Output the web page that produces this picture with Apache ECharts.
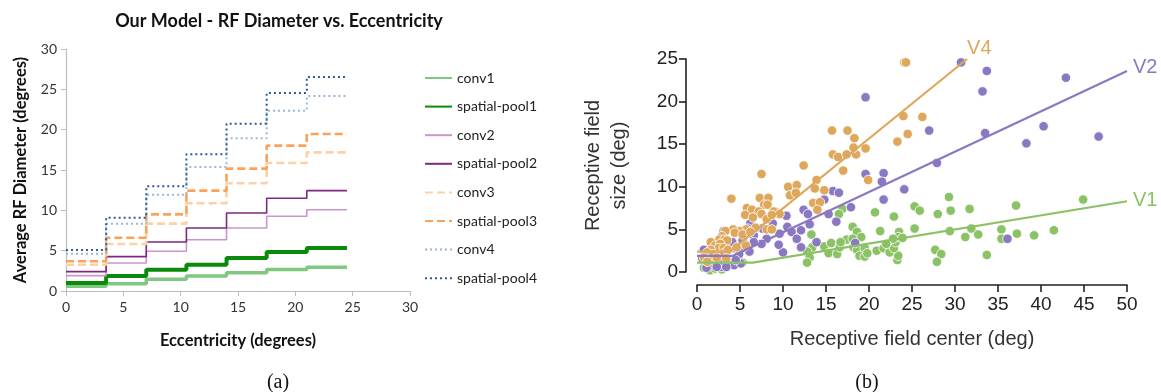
<!DOCTYPE html>
<html><head><meta charset="utf-8">
<script src="https://cdn.jsdelivr.net/npm/echarts@6/dist/echarts.min.js"></script>
<style>html,body{margin:0;padding:0;background:#fff}#c{width:1161px;height:392px}</style>
</head><body><div id="c"></div><script>
// ---------- (a) data ----------
const eccBreaks = [0, 3.5, 7, 10.5, 14, 17.5, 21, 24.5];
const layerNames = ['conv1','spatial-pool1','conv2','spatial-pool2','conv3','spatial-pool3','conv4','spatial-pool4'];
const conv1 = [0.6, 0.9, 1.45, 1.85, 2.25, 2.65, 2.95];
const spatialPool1 = [1.0, 1.86, 2.64, 3.26, 4.09, 4.83, 5.33];
const conv2 = [1.9, 3.47, 4.92, 6.36, 7.81, 9.26, 10.08];
const spatialPool2 = [2.4, 4.26, 6.07, 7.81, 9.67, 11.49, 12.44];
const conv3 = [3.26, 5.83, 8.35, 10.87, 13.35, 15.87, 17.19];
const spatialPool3 = [3.68, 6.61, 9.5, 12.44, 15.17, 18.02, 19.46];
const conv4 = [4.63, 8.35, 11.94, 15.37, 18.93, 22.36, 24.17];
const spatialPool4 = [5.08, 9.09, 12.98, 16.94, 20.74, 24.55, 26.53];
const layerValues = [conv1, spatialPool1, conv2, spatialPool2, conv3, spatialPool3, conv4, spatialPool4];

// ---------- (b) data ----------
const v1Points = [[44.9,8.5],[37.1,7.8],[29.3,8.8],[29.5,7.2],[31.7,7.4],[25.3,7.7],[25.9,7.2],[28.0,6.8],[20.7,7.0],[16.9,7.4],[16.5,6.8],[22.9,6.5],[18.1,5.3],[18.6,4.7],[19.1,4.1],[21.3,4.8],[23.5,4.7],[25.3,5.1],[29.4,4.8],[31.9,5.1],[32.7,4.4],[31.2,4.1],[35.4,5.0],[35.4,3.9],[37.2,4.5],[39.2,4.3],[41.5,4.9],[33.7,2.0],[27.7,2.6],[28.4,2.1],[27.9,1.2],[23.3,1.4],[23.4,1.9],[13.3,4.4],[13.4,2.9],[12.8,2.4],[13.1,1.7],[12.8,1.1],[14.8,3.0],[15.6,3.4],[15.3,2.2],[16.3,2.1],[16.6,2.9],[17.4,3.8],[18.1,3.9],[18.2,2.9],[18.6,2.6],[18.9,1.9],[19.5,1.8],[19.5,2.8],[19.8,2.2],[20.9,2.5],[21.7,2.8],[22.4,2.3],[22.9,2.8],[23.1,3.5],[23.4,4.1],[22.8,3.9],[23.9,4.0],[22.0,3.3],[16.7,3.5],[0.8,0.5],[1.5,0.2],[2.1,0.4],[2.9,0.3],[3.6,0.7],[4.2,1.0],[5.3,1.1],[1.2,0.8],[2.4,0.9]];
const v2Points = [[30.7,24.6],[33.7,23.6],[33.2,21.2],[42.9,22.8],[19.6,20.5],[27.0,16.6],[33.5,16.3],[40.3,17.1],[38.3,15.1],[46.7,15.9],[27.9,12.8],[19.6,11.5],[21.7,11.6],[21.5,10.6],[24.1,9.7],[21.7,8.5],[15.8,9.5],[16.5,9.3],[14.8,8.5],[17.9,7.6],[15.3,6.8],[12.4,7.3],[12.9,6.8],[16.2,5.9],[13.1,5.6],[13.9,3.5],[18.4,3.4],[12.1,2.9],[10.0,2.3],[36.1,3.9],[10.4,6.6],[9.2,7.0],[8.8,5.7],[10.5,5.3],[11.0,4.7],[11.6,3.9],[12.1,4.9],[9.6,4.5],[9.5,3.2],[8.1,3.9],[7.5,3.3],[7.6,5.1],[6.6,4.3],[6.6,3.5],[6.2,5.7],[5.9,5.1],[5.3,3.7],[6.1,2.4],[5.4,2.9],[4.9,2.1],[4.2,2.8],[4.1,3.5],[3.1,4.8],[2.7,3.5],[2.2,3.2],[1.5,2.4],[0.8,2.6],[0.6,1.6],[1.2,1.2],[1.8,0.8],[2.6,1.2],[2.9,0.6],[3.6,1.2],[4.3,0.8],[5.1,1.0],[1.1,0.5],[2.3,0.6],[3.4,0.6],[4.5,1.4]];
const v4Points = [[24.1,24.6],[24.3,24.6],[15.7,16.6],[17.5,16.6],[18.3,15.7],[24.0,18.3],[26.2,18.2],[24.5,16.2],[23.3,15.3],[15.8,13.8],[16.4,13.5],[17.4,13.8],[18.5,13.8],[18.2,14.6],[19.6,14.5],[17.0,11.9],[19.9,10.8],[12.4,12.5],[7.5,11.5],[10.6,10.0],[11.6,10.2],[10.8,9.0],[11.5,9.3],[13.9,10.8],[13.7,9.8],[14.8,9.6],[13.5,8.1],[14.3,8.2],[14.0,7.3],[4.0,8.6],[7.3,8.7],[8.3,8.7],[7.8,7.9],[8.2,7.9],[5.8,7.5],[6.4,7.3],[7.2,7.1],[7.5,6.8],[8.9,7.1],[9.6,6.8],[5.6,6.7],[6.5,6.4],[8.1,6.2],[8.7,6.7],[8.1,5.0],[8.7,5.0],[6.8,5.2],[5.7,5.0],[4.9,4.8],[4.2,5.0],[4.4,4.6],[5.3,4.4],[6.2,4.7],[3.3,4.8],[2.9,4.2],[2.6,3.8],[3.2,3.8],[3.5,3.7],[1.6,3.5],[2.1,3.1],[2.7,3.3],[2.5,2.8],[3.1,2.8],[1.6,2.6],[1.2,2.3],[1.9,2.1],[3.1,2.2],[3.6,2.6],[4.6,2.9],[5.7,3.1],[0.8,1.7],[1.4,1.4],[2.3,1.7],[3.4,1.6],[1.2,1.2]];
const v1Fit = [[0,1.1],[6.5,1.1],[50,8.3]];
const v2Fit = [[0,1.9],[4.2,1.9],[50,23.6]];
const v4Fit = [[0,2.4],[3.8,2.4],[31.4,25.0]];

// ---------- styles ----------
const layerStyles = [
  {color:'#80c880', width:3.5, type:'solid'},
  {color:'#0a8a0a', width:4, type:'solid'},
  {color:'#c996c9', width:1.6, type:'solid'},
  {color:'#7e2882', width:1.6, type:'solid'},
  {color:'#fdd1a4', width:2.6, type:[8,4]},
  {color:'#fba258', width:2.6, type:[8,4]},
  {color:'#9db6d6', width:2, type:[2,3]},
  {color:'#2b5c96', width:2, type:[2,3]}
];
const cV1 = '#8cc266', cV2 = '#8a78c2', cV4 = '#dea85c';

const leftFont = 'Lato, "Noto Sans", sans-serif';
const rightFont = '"Liberation Sans", Arial, sans-serif';

const stepSeries = layerNames.map((name, k) => ({
  name, type:'line', xAxisIndex:0, yAxisIndex:0, step:'end', symbol:'none',
  data: eccBreaks.map((x, i) => [x, layerValues[k][Math.min(i, layerValues[k].length - 1)]]),
  lineStyle: {color: layerStyles[k].color, width: layerStyles[k].width, type: layerStyles[k].type},
  itemStyle: {color: layerStyles[k].color},
  z: 2 + k
}));

const scatterSeries = [[v1Points, cV1],[v2Points, cV2],[v4Points, cV4]].map(([pts, c], k) => ({
  type:'scatter', xAxisIndex:1, yAxisIndex:1, data: pts, symbolSize: 9.5,
  itemStyle: {color: c, borderColor:'#fff', borderWidth: 0.8, opacity: 1},
  z: 10 + k
}));

const fitSeries = [[v1Fit, cV1, 'V1', [2,-1]],[v2Fit, cV2, 'V2', [2,-3]],[v4Fit, cV4, 'V4', [-4,-11]]].map(([pts, c, lab, off]) => ({
  type:'line', xAxisIndex:1, yAxisIndex:1, data: pts, symbol:'none',
  lineStyle: {color: c, width: 2.2}, z: 20,
  endLabel: {show:true, formatter: lab, color: c, fontSize: 20, fontFamily: rightFont, distance: 4, offset: off}
}));

const chart = echarts.init(document.getElementById('c'), null, {renderer:'canvas'});
chart.setOption({
  animation: false,
  backgroundColor: '#fff',
  title: [
    {text:'Our Model - RF Diameter vs. Eccentricity', left: 274, top: 7, textAlign:'center',
     textStyle:{fontFamily: leftFont, fontWeight:'bold', fontSize: 18, color:'#111'}},
    {text:'(a)', left: 273, top: 368, textAlign:'center',
     textStyle:{fontFamily:'"Liberation Serif", "DejaVu Serif", serif', fontWeight:'normal', fontSize: 20, color:'#111'}},
    {text:'(b)', left: 862, top: 368, textAlign:'center',
     textStyle:{fontFamily:'"Liberation Serif", "DejaVu Serif", serif', fontWeight:'normal', fontSize: 20, color:'#111'}}
  ],
  legend: {
    data: layerNames, orient:'vertical', left: 419, top: 66, itemWidth: 27, itemHeight: 10, itemGap: 14.6,
    itemStyle: {opacity: 0},
    textStyle: {fontFamily: leftFont, fontSize: 14, color:'#222'}, selectedMode: false
  },
  grid: [
    {left: 66, top: 49, width: 344, height: 242},
    {left: 697, top: 59, width: 430, height: 213}
  ],
  xAxis: [
    {type:'value', gridIndex:0, min:0, max:30, interval:5,
     name:'Eccentricity (degrees)', nameLocation:'middle', nameGap: 41,
     nameTextStyle:{fontFamily:leftFont, fontWeight:'bold', fontSize:16.5, color:'#111'},
     axisLine:{show:true, lineStyle:{color:'#bdbdbd', width:1.2}},
     axisTick:{show:true, length:5, lineStyle:{color:'#bdbdbd'}},
     axisLabel:{fontFamily:leftFont, fontSize:14, color:'#333', margin:9},
     splitLine:{show:false}},
    {type:'value', gridIndex:1, min:0, max:50, interval:5, offset: 13,
     name:'Receptive field center (deg)', nameLocation:'middle', nameGap: 44,
     nameTextStyle:{fontFamily:rightFont, fontSize:20, color:'#333'},
     axisLine:{show:true, onZero:false, lineStyle:{color:'#222', width:1.6}},
     axisTick:{show:true, length:7, lineStyle:{color:'#222', width:1.6}},
     axisLabel:{fontFamily:rightFont, fontSize:19, color:'#222', margin:10},
     splitLine:{show:false}}
  ],
  yAxis: [
    {type:'value', gridIndex:0, min:0, max:30, interval:5,
     name:'Average RF Diameter (degrees)', nameLocation:'middle', nameGap: 37, nameRotate: 90,
     nameTextStyle:{fontFamily:leftFont, fontWeight:'bold', fontSize:16.5, color:'#111'},
     axisLine:{show:true, lineStyle:{color:'#bdbdbd', width:1.2}},
     axisTick:{show:true, length:5, lineStyle:{color:'#bdbdbd'}},
     axisLabel:{fontFamily:leftFont, fontSize:14, color:'#333', margin:9},
     splitLine:{show:false}},
    {type:'value', gridIndex:1, min:0, max:25, interval:5, offset: 11,
     name:'Receptive field\nsize (deg)', nameLocation:'middle', nameGap: 54, nameRotate: 90,
     nameTextStyle:{fontFamily:rightFont, fontSize:20, color:'#333', lineHeight: 26},
     axisLine:{show:true, onZero:false, lineStyle:{color:'#222', width:1.6}},
     axisTick:{show:true, length:7, lineStyle:{color:'#222', width:1.6}},
     axisLabel:{fontFamily:rightFont, fontSize:19, color:'#222', margin:8},
     splitLine:{show:false}}
  ],
  series: [...stepSeries, ...scatterSeries, ...fitSeries]
});
</script></body></html>
